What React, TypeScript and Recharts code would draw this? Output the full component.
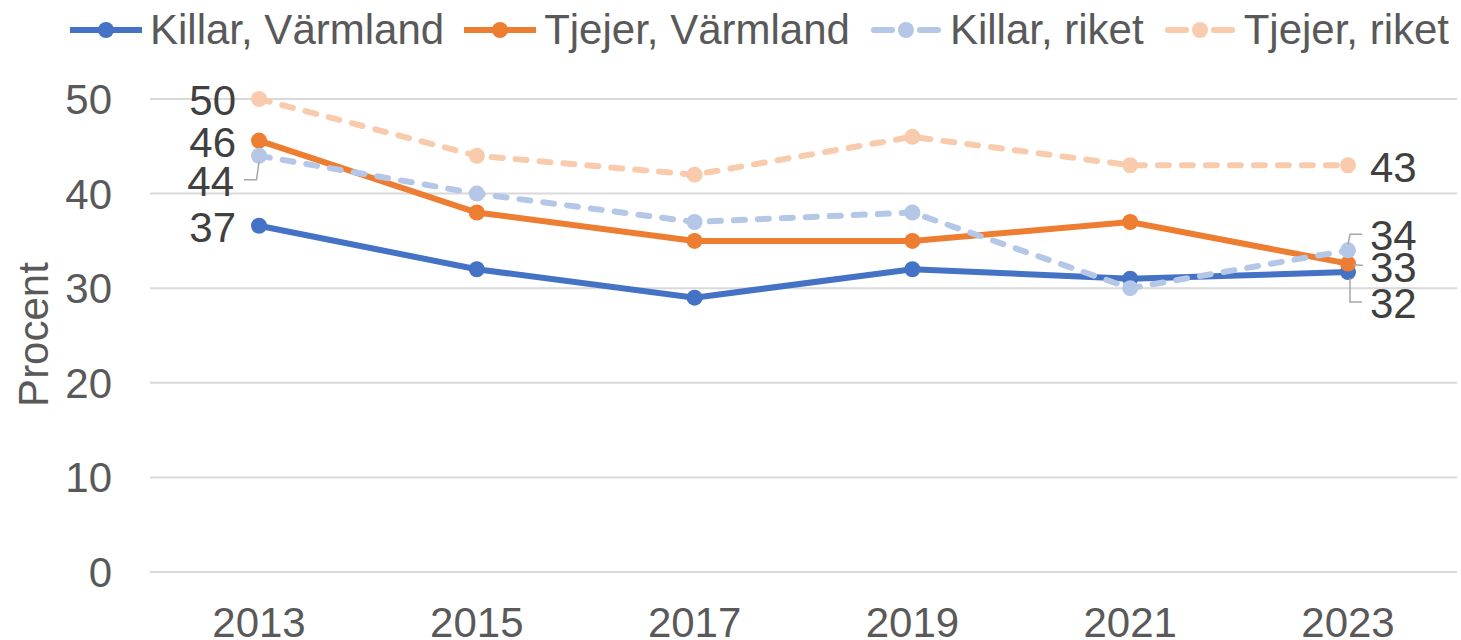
import React from 'react';
import { LineChart, Line, XAxis, YAxis, CartesianGrid, LabelList } from 'recharts';

const years = ['2013', '2015', '2017', '2019', '2021', '2023'];
const killarVarmland = [36.6, 32, 29, 32, 31, 31.7];
const tjejerVarmland = [45.6, 38, 35, 35, 37, 32.6];
const killarRiket = [44, 40, 37, 38, 30, 34];
const tjejerRiket = [50, 44, 42, 46, 43, 43];
const yTicks = [0, 10, 20, 30, 40, 50];

const data = years.map((year, i) => ({
  year,
  killarVarmland: killarVarmland[i],
  tjejerVarmland: tjejerVarmland[i],
  killarRiket: killarRiket[i],
  tjejerRiket: tjejerRiket[i],
}));

const FONT = '"Liberation Sans", Arial, sans-serif';
const FS = 42;
const LABEL_COLOR = '#404040';
const TICK_COLOR = '#595959';
const LEADER = '#a6a6a6';

type LabelCfg = { dx: number; dy: number; anchor: 'start' | 'end'; leader?: [number, number][] };

const makeLabel = (first: LabelCfg, last: LabelCfg) => (props: any) => {
  const { index, value } = props;
  const x = props.x ?? props.viewBox?.x;
  const y = props.y ?? props.viewBox?.y;
  const n = years.length;
  if (index !== 0 && index !== n - 1) return null;
  const cfg = index === 0 ? first : last;
  return (
    <g>
      {cfg.leader && (
        <polyline
          points={cfg.leader.map(([a, b]) => `${x + a},${y + b}`).join(' ')}
          fill="none"
          stroke={LEADER}
          strokeWidth={1.5}
        />
      )}
      <text
        x={x + cfg.dx}
        y={y + cfg.dy}
        dy="0.355em"
        textAnchor={cfg.anchor}
        fontFamily={FONT}
        fontSize={FS}
        fill={LABEL_COLOR}
      >
        {Math.round(Number(value))}
      </text>
    </g>
  );
};

const series = [
  {
    key: 'killarVarmland',
    name: 'Killar, Värmland',
    color: '#4472C4',
    dashed: false,
    label: makeLabel(
      { dx: -23, dy: 1, anchor: 'end' },
      { dx: 22, dy: 31, anchor: 'start', leader: [[2, 6], [2, 30], [14, 30]] }
    ),
  },
  {
    key: 'tjejerVarmland',
    name: 'Tjejer, Värmland',
    color: '#ED7D31',
    dashed: false,
    label: makeLabel(
      { dx: -23, dy: 1, anchor: 'end' },
      { dx: 22, dy: 3, anchor: 'start', leader: [[5, 1], [15, 2]] }
    ),
  },
  {
    key: 'killarRiket',
    name: 'Killar, riket',
    color: '#B4C7E7',
    dashed: true,
    label: makeLabel(
      { dx: -25, dy: 25, anchor: 'end', leader: [[0, 6], [-2.5, 24], [-15, 24]] },
      { dx: 22, dy: -15, anchor: 'start', leader: [[0, -6], [2, -16], [14, -16]] }
    ),
  },
  {
    key: 'tjejerRiket',
    name: 'Tjejer, riket',
    color: '#F8CBAD',
    dashed: true,
    label: makeLabel(
      { dx: -23, dy: 1, anchor: 'end' },
      { dx: 22, dy: 2, anchor: 'start' }
    ),
  },
];

const LegendIcon = ({ color, dashed }: { color: string; dashed: boolean }) => (
  <svg width={72} height={20} style={{ display: 'block' }}>
    {dashed ? (
      <>
        <line x1={4} y1={10} x2={22} y2={10} stroke={color} strokeWidth={6} strokeLinecap="round" />
        <line x1={50} y1={10} x2={68} y2={10} stroke={color} strokeWidth={6} strokeLinecap="round" />
      </>
    ) : (
      <line x1={0} y1={10} x2={72} y2={10} stroke={color} strokeWidth={6} />
    )}
    <circle cx={36} cy={10} r={8} fill={color} />
  </svg>
);

const ProcentLabel = (props: any) => {
  const vb = props.viewBox || { x: 0, y: 99, width: 150, height: 473 };
  const cx = vb.x + 48;
  const cy = vb.y + vb.height / 2 - 1;
  return (
    <text
      x={cx}
      y={cy}
      textAnchor="middle"
      transform={`rotate(-90, ${cx}, ${cy})`}
      fontFamily={FONT}
      fontSize={FS}
      fill={TICK_COLOR}
    >
      Procent
    </text>
  );
};

export default function App() {
  return (
    <div style={{ position: 'absolute', left: 0, top: 0, width: 1461, height: 640, background: '#fff', fontFamily: FONT }}>
      <div
        style={{
          position: 'absolute',
          left: 70,
          top: 6,
          display: 'flex',
          alignItems: 'center',
          gap: 20,
          fontSize: FS,
          lineHeight: '48px',
          color: TICK_COLOR,
          whiteSpace: 'nowrap',
          zIndex: 2,
        }}
      >
        {series.map((s) => (
          <div key={s.key} style={{ display: 'flex', alignItems: 'center' }}>
            <LegendIcon color={s.color} dashed={s.dashed} />
            <span style={{ marginLeft: 8 }}>{s.name}</span>
          </div>
        ))}
      </div>
      <LineChart width={1461} height={640} data={data} margin={{ top: 99, right: 4, bottom: 0, left: 0 }}>
        <CartesianGrid vertical={false} stroke="#d9d9d9" strokeWidth={2} />
        <XAxis
          dataKey="year"
          axisLine={false}
          tickLine={false}
          tickSize={0}
          tickMargin={35}
          height={68}
          padding={{ left: 109, right: 109 }}
          tick={{ fill: TICK_COLOR, fontSize: FS, fontFamily: FONT }}
          interval={0}
        />
        <YAxis
          domain={[0, 50]}
          ticks={yTicks}
          axisLine={false}
          tickLine={false}
          tickSize={0}
          tickMargin={38}
          width={150}
          tick={{ fill: TICK_COLOR, fontSize: FS, fontFamily: FONT }}
          label={<ProcentLabel />}
        />
        {series.map((s) => (
          <Line
            key={s.key}
            type="linear"
            dataKey={s.key}
            name={s.name}
            stroke={s.color}
            strokeWidth={6}
            strokeDasharray={s.dashed ? '11 13' : undefined}
            strokeLinecap="round"
            dot={{ r: 8, fill: s.color, stroke: s.color, strokeWidth: 0 }}
            activeDot={false}
            isAnimationActive={false}
          >
            <LabelList dataKey={s.key} content={s.label} />
          </Line>
        ))}
      </LineChart>
    </div>
  );
}
